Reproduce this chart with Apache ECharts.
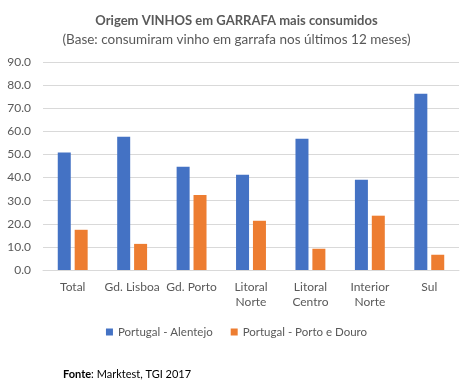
<!DOCTYPE html>
<html><head><meta charset="utf-8">
<script src="https://cdn.jsdelivr.net/npm/echarts@6/dist/echarts.min.js"></script>
<style>html,body{margin:0;padding:0;background:#fff}#c{width:473px;height:387px}</style>
</head><body><div id="c"></div>
<script>
const categories = ['Total', 'Gd. Lisboa', 'Gd. Porto', 'Litoral\nNorte', 'Litoral\nCentro', 'Interior\nNorte', 'Sul'];
const alentejo = [50.8, 57.7, 44.7, 41.2, 56.8, 39.0, 76.3];
const portoDouro = [17.4, 11.3, 32.5, 21.3, 9.2, 23.5, 6.6];
const seriesNames = ['Portugal - Alentejo', 'Portugal - Porto e Douro'];
const FONT = 'Lato';
const chart = echarts.init(document.getElementById('c'));
chart.setOption({
  animation: false,
  textStyle: { fontFamily: FONT },
  title: [{
    text: 'Origem VINHOS em GARRAFA mais consumidos',
    left: 'center', top: 9,
    textStyle: { fontFamily: FONT, fontSize: 13, fontWeight: 'bold', color: '#595959' }
  }, {
    text: '(Base: consumiram vinho em garrafa nos últimos 12 meses)',
    left: 'center', top: 28,
    textStyle: { fontFamily: FONT, fontSize: 13.5, fontWeight: 'normal', color: '#595959' }
  }, {
    text: '{b|Fonte}: Marktest, TGI 2017',
    left: 58, top: 364,
    textStyle: { fontFamily: FONT, fontSize: 11, fontWeight: 'normal', color: '#000',
      rich: { b: { fontFamily: FONT, fontSize: 11, fontWeight: 'bold', color: '#000' } } }
  }],
  legend: {
    data: seriesNames, top: 321, left: 'center',
    itemWidth: 7, itemHeight: 7, itemGap: 18, icon: 'rect',
    textStyle: { fontFamily: FONT, fontSize: 11.5, color: '#595959' }
  },
  grid: { left: 43, right: 14, top: 62, bottom: 117 },
  xAxis: {
    type: 'category', data: categories,
    axisLine: { lineStyle: { color: '#d9d9d9' } },
    axisTick: { show: false },
    axisLabel: { color: '#595959', fontSize: 12, fontFamily: FONT, margin: 10, lineHeight: 15, interval: 0 }
  },
  yAxis: {
    type: 'value', min: 0, max: 90, interval: 10,
    axisLabel: { color: '#595959', fontSize: 12, fontFamily: FONT, formatter: v => v.toFixed(1), margin: 12 },
    splitLine: { lineStyle: { color: '#d9d9d9' } },
    axisLine: { show: false }, axisTick: { show: false }
  },
  series: [{
    name: seriesNames[0], type: 'bar', data: alentejo, barWidth: 13, barGap: '30%',
    itemStyle: { color: '#4472C4' }
  }, {
    name: seriesNames[1], type: 'bar', data: portoDouro, barWidth: 13,
    itemStyle: { color: '#ED7D31' }
  }]
});
</script></body></html>
